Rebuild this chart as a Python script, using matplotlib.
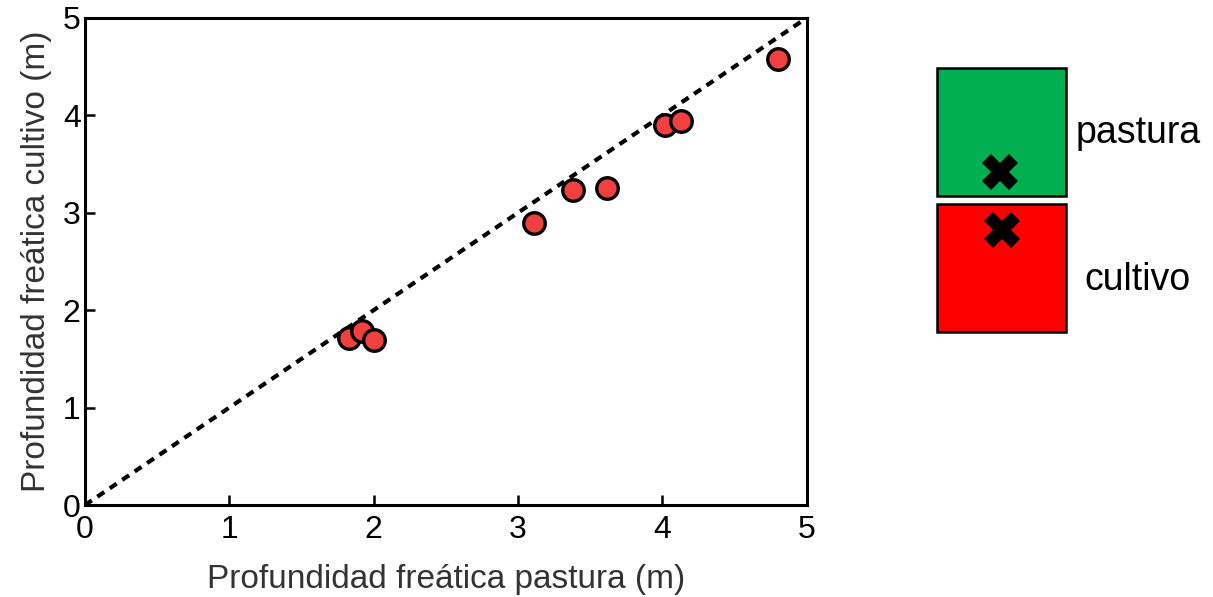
import matplotlib
matplotlib.use("Agg")
import matplotlib.pyplot as plt
from matplotlib.patches import Rectangle

plt.rcParams['font.family'] = ['Liberation Sans', 'DejaVu Sans']

# profundidad freática (m)
pastura = [1.83, 1.92, 2.00, 3.11, 3.38, 3.62, 4.02, 4.13, 4.80]
cultivo = [1.71, 1.79, 1.69, 2.89, 3.23, 3.25, 3.90, 3.94, 4.58]

ticks = [0, 1, 2, 3, 4, 5]
leyenda = ["pastura", "cultivo"]
colores = ["#00b050", "#ff0000"]

fig = plt.figure(figsize=(12.13, 5.97), dpi=100)
ax = fig.add_axes([0.070, 0.154, 0.595, 0.816])

ax.plot([0, 5], [0, 5], linestyle=(0, (2, 1.6)), color="black", lw=3, zorder=1)
ax.plot(pastura, cultivo, "o", ms=15.5, mfc="#f04040", mec="black", mew=2.4, zorder=2)

ax.set_xlim(0, 5)
ax.set_ylim(0, 5)
ax.set_xticks(ticks)
ax.set_yticks(ticks)
ax.tick_params(direction="in", length=7, width=1.8, labelsize=23)
ax.tick_params(axis="x", pad=7)
ax.tick_params(axis="y", pad=3)
for s in ax.spines.values():
    s.set_linewidth(2.2)
ax.set_xlabel("Profundidad freática pastura (m)", fontsize=24, color="#333333", labelpad=14)
ax.set_ylabel("Profundidad freática cultivo (m)", fontsize=24, color="#333333", labelpad=8)

# esquema de la derecha
lg = fig.add_axes([0, 0, 1, 1])
lg.set_xlim(0, 1213)
lg.set_ylim(597, 0)
lg.axis("off")
tops = [68, 204]
cruces = [(1000, 172), (1002, 230)]
textos = [(1076, 133), (1084, 280)]
for i in range(2):
    lg.add_patch(Rectangle((937, tops[i]), 129, 128, facecolor=colores[i],
                           edgecolor="black", lw=1.8))
    lg.plot(*cruces[i], marker="X", ms=26, color="black", mew=0)
    lg.text(textos[i][0], textos[i][1], leyenda[i], fontsize=27, va="center", ha="left")

fig.savefig("out.png", dpi=100)
